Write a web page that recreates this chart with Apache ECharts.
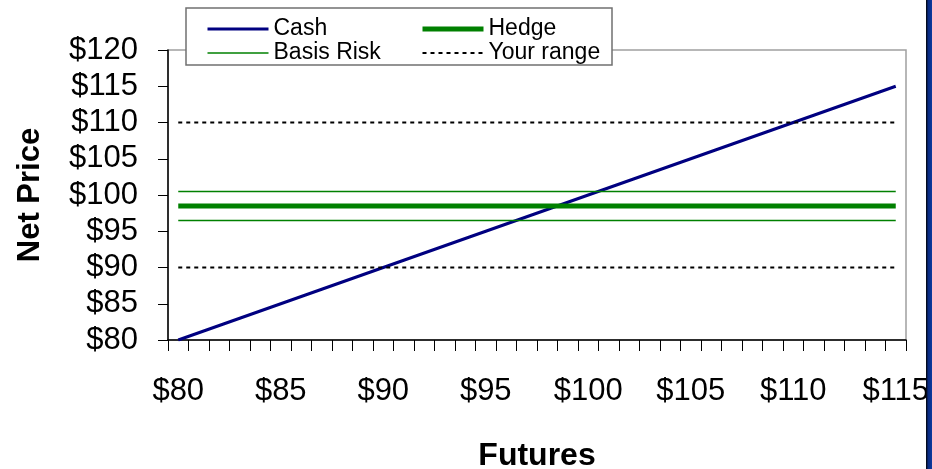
<!DOCTYPE html>
<html>
<head>
<meta charset="utf-8">
<script src="https://cdn.jsdelivr.net/npm/echarts@6/dist/echarts.min.js"></script>
<style>
  html, body { margin: 0; padding: 0; background: #ffffff; }
  #chart { width: 932px; height: 469px; }
</style>
</head>
<body>
<div id="chart"></div>
<script>
// Futures price categories (x axis)
var futures = ['$80','$81','$82','$83','$84','$85','$86','$87','$88','$89',
               '$90','$91','$92','$93','$94','$95','$96','$97','$98','$99',
               '$100','$101','$102','$103','$104','$105','$106','$107','$108','$109',
               '$110','$111','$112','$113','$114','$115'];

// Net price received on the cash market
var cash = [80,81,82,83,84,85,86,87,88,89,
            90,91,92,93,94,95,96,97,98,99,
            100,101,102,103,104,105,106,107,108,109,
            110,111,112,113,114,115];

// Hedged net price
var hedge = [98.5,98.5,98.5,98.5,98.5,98.5,98.5,98.5,98.5,98.5,
             98.5,98.5,98.5,98.5,98.5,98.5,98.5,98.5,98.5,98.5,
             98.5,98.5,98.5,98.5,98.5,98.5,98.5,98.5,98.5,98.5,
             98.5,98.5,98.5,98.5,98.5,98.5];

// Basis risk band around the hedge
var basisHigh = [100.5,100.5,100.5,100.5,100.5,100.5,100.5,100.5,100.5,100.5,
                 100.5,100.5,100.5,100.5,100.5,100.5,100.5,100.5,100.5,100.5,
                 100.5,100.5,100.5,100.5,100.5,100.5,100.5,100.5,100.5,100.5,
                 100.5,100.5,100.5,100.5,100.5,100.5];
var basisLow = [96.5,96.5,96.5,96.5,96.5,96.5,96.5,96.5,96.5,96.5,
                96.5,96.5,96.5,96.5,96.5,96.5,96.5,96.5,96.5,96.5,
                96.5,96.5,96.5,96.5,96.5,96.5,96.5,96.5,96.5,96.5,
                96.5,96.5,96.5,96.5,96.5,96.5];

// Target price range
var rangeHigh = [110,110,110,110,110,110,110,110,110,110,
                 110,110,110,110,110,110,110,110,110,110,
                 110,110,110,110,110,110,110,110,110,110,
                 110,110,110,110,110,110];
var rangeLow = [90,90,90,90,90,90,90,90,90,90,
                90,90,90,90,90,90,90,90,90,90,
                90,90,90,90,90,90,90,90,90,90,
                90,90,90,90,90,90];

var FONT = '"Liberation Sans", Arial, sans-serif';
var NAVY = '#000080';
var GREEN = '#008000';

var chart = echarts.init(document.getElementById('chart'), null, { renderer: 'canvas' });

function lineSeries(name, data, color, width, type) {
  return {
    name: name,
    type: 'line',
    data: data,
    symbol: 'none',
    showSymbol: false,
    silent: true,
    animation: false,
    lineStyle: { color: color, width: width, type: type || 'solid', cap: 'butt' },
    itemStyle: { color: color }
  };
}

var legendText = { fontFamily: FONT, fontSize: 23, color: '#000', lineHeight: 24 };

function legendItem(name, color, width, type) {
  return {
    name: name,
    lineStyle: { color: color, width: width, type: type || 'solid', opacity: 1 },
    itemStyle: { opacity: 0 }
  };
}

chart.setOption({
  animation: false,
  backgroundColor: '#ffffff',
  grid: {
    left: 168, right: 26, top: 50, bottom: 129,
    outerBoundsMode: 'none',
    containLabel: false,
    show: true, borderColor: '#a0a0a0', borderWidth: 1.5, backgroundColor: 'transparent'
  },
  legend: [
    {
      data: [legendItem('Cash', NAVY, 3), legendItem('Basis Risk', GREEN, 1.5)],
      orient: 'vertical',
      left: 201, top: 12,
      itemWidth: 61, itemHeight: 12, itemGap: 0,
      itemStyle: { opacity: 0 },
      textStyle: legendText,
      selectedMode: false,
      z: 10
    },
    {
      data: [legendItem('Hedge', GREEN, 5), legendItem('Your range', '#000', 2, [4, 4])],
      orient: 'vertical',
      left: 415, top: 12,
      itemWidth: 61, itemHeight: 12, itemGap: 0,
      itemStyle: { opacity: 0 },
      textStyle: legendText,
      selectedMode: false,
      z: 10
    }
  ],
  xAxis: {
    type: 'category',
    data: futures,
    boundaryGap: true,
    name: 'Futures',
    nameLocation: 'middle',
    nameGap: 100,
    nameTextStyle: { fontFamily: FONT, fontSize: 32, fontWeight: 'bold', color: '#000' },
    axisLine: { show: true, lineStyle: { color: '#000', width: 1.5 } },
    axisTick: { show: true, interval: 0, length: 11, inside: false, lineStyle: { color: '#000', width: 1 } },
    axisLabel: { interval: 4, margin: 36, fontFamily: FONT, fontSize: 31, color: '#000', hideOverlap: false },
    splitLine: { show: false }
  },
  yAxis: {
    type: 'value',
    min: 80, max: 120, interval: 5,
    name: 'Net Price',
    nameLocation: 'middle',
    nameRotate: 90,
    nameGap: 122,
    nameTextStyle: { fontFamily: FONT, fontSize: 31, fontWeight: 'bold', color: '#000' },
    axisLine: { show: true, lineStyle: { color: '#000', width: 1.5 } },
    axisTick: { show: true, length: 10, inside: false, lineStyle: { color: '#000', width: 1 } },
    axisLabel: {
      margin: 30, fontFamily: FONT, fontSize: 31, color: '#000', hideOverlap: false,
      formatter: function (v) { return '$' + v; }
    },
    splitLine: { show: false }
  },
  graphic: [
    {
      type: 'rect', z: 5,
      shape: { x: 186, y: 8, width: 426, height: 57 },
      style: { fill: '#ffffff', stroke: '#707070', lineWidth: 1.5 }
    },
    {
      type: 'rect', z: 100,
      shape: { x: 926, y: 0, width: 6, height: 469 },
      style: {
        fill: new echarts.graphic.LinearGradient(0, 0, 1, 0, [
          { offset: 0, color: '#000000' },
          { offset: 0.35, color: '#0a2a80' },
          { offset: 1, color: '#0d3a9e' }
        ])
      }
    }
  ],
  series: [
    lineSeries('Cash', cash, NAVY, 3),
    lineSeries('Hedge', hedge, GREEN, 5),
    lineSeries('Basis Risk', basisHigh, GREEN, 1.5),
    lineSeries('Basis Risk', basisLow, GREEN, 1.5),
    lineSeries('Your range', rangeHigh, '#000', 2, [4, 4]),
    lineSeries('Your range', rangeLow, '#000', 2, [4, 4])
  ]
});
</script>
</body>
</html>
